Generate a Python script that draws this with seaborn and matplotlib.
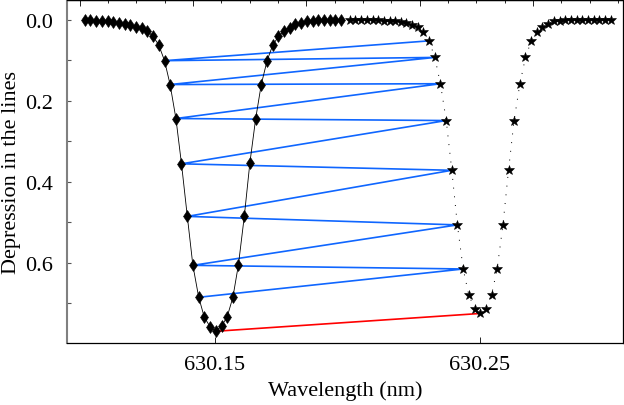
import matplotlib
matplotlib.use("Agg")
import matplotlib.pyplot as plt
from matplotlib.ticker import MultipleLocator, NullFormatter
import pandas as pd
import seaborn as sns

# ==========================
# Data
# ==========================
# Fe I 630.15 nm line (diamonds)
wl_line1 = [630.1009, 630.1030, 630.1052, 630.1073, 630.1095, 630.1116, 630.1138,
            630.1159, 630.1181, 630.1202, 630.1224, 630.1245, 630.1267, 630.1288,
            630.1310, 630.1331, 630.1353, 630.1374, 630.1396, 630.1417, 630.1439,
            630.1460, 630.1482, 630.1503, 630.1525, 630.1546, 630.1568, 630.1589,
            630.1611, 630.1632, 630.1654, 630.1675, 630.1697, 630.1718, 630.1740,
            630.1761, 630.1783, 630.1804, 630.1826, 630.1847, 630.1869, 630.1890,
            630.1912, 630.1933, 630.1955, 630.1976]
depth_line1 = [0.001, 0.001, 0.002, 0.003, 0.004, 0.006, 0.008, 0.011, 0.014, 0.018,
               0.021, 0.028, 0.041, 0.062, 0.101, 0.160, 0.244, 0.356, 0.486, 0.607,
               0.686, 0.735, 0.759, 0.770, 0.757, 0.735, 0.686, 0.605, 0.486, 0.354,
               0.244, 0.160, 0.101, 0.063, 0.041, 0.027, 0.019, 0.011, 0.007, 0.004,
               0.002, 0.001, 0.001, 0.000, 0.000, 0.000]

# Fe I 630.25 nm line (stars)
wl_line2 = [630.2009, 630.2030, 630.2052, 630.2073, 630.2095, 630.2116, 630.2137,
            630.2159, 630.2180, 630.2201, 630.2223, 630.2244, 630.2266, 630.2287,
            630.2308, 630.2330, 630.2351, 630.2373, 630.2394, 630.2415, 630.2437,
            630.2458, 630.2480, 630.2501, 630.2522, 630.2544, 630.2565, 630.2587,
            630.2608, 630.2629, 630.2651, 630.2672, 630.2694, 630.2715, 630.2736,
            630.2758, 630.2779, 630.2801, 630.2822, 630.2843, 630.2865, 630.2886,
            630.2908, 630.2929, 630.2950, 630.2972, 630.2993]
depth_line2 = [0.000, 0.000, 0.001, 0.001, 0.001, 0.001, 0.002, 0.003, 0.004, 0.006,
               0.009, 0.012, 0.017, 0.029, 0.052, 0.093, 0.158, 0.249, 0.372, 0.507,
               0.616, 0.680, 0.714, 0.726, 0.714, 0.680, 0.616, 0.507, 0.372, 0.249,
               0.158, 0.093, 0.052, 0.029, 0.017, 0.010, 0.004, 0.002, 0.001, 0.001,
               0.000, 0.000, 0.000, 0.000, 0.000, 0.000, 0.000]

# samples linked between the two lines (same index in both arrays)
linked_idx = [14, 15, 16, 17, 18, 19, 20]
core_idx = 23

# ==========================
# Build tables
# ==========================
df1 = pd.DataFrame({"wl": wl_line1, "depth": depth_line1})
df2 = pd.DataFrame({"wl": wl_line2, "depth": depth_line2})

zz_wl, zz_d = [], []
for i in linked_idx:
    zz_wl += [wl_line2[i], wl_line1[i]]
    zz_d += [depth_line2[i], depth_line1[i]]
df_zz = pd.DataFrame({"wl": zz_wl, "depth": zz_d})
df_core = pd.DataFrame({"wl": [wl_line1[core_idx], wl_line2[core_idx]],
                        "depth": [depth_line1[core_idx], depth_line2[core_idx]]})

# ==========================
# Figure
# ==========================
sns.set_style("ticks")
plt.rcParams["font.family"] = ["Liberation Serif", "DejaVu Serif"]
plt.rcParams["text.color"] = "black"
plt.rcParams["axes.labelcolor"] = "black"
plt.rcParams["xtick.labelcolor"] = "black"
plt.rcParams["ytick.labelcolor"] = "black"

fig = plt.figure(figsize=(6.24, 4.06), dpi=100)
ax = fig.add_axes([67 / 624, 62 / 406, 556 / 624, 343 / 406])

sns.lineplot(data=df_zz, x="wl", y="depth", sort=False, color="#0f66ff",
             linewidth=1.2, ax=ax, zorder=2)
sns.lineplot(data=df_core, x="wl", y="depth", sort=False, color="#ff0000",
             linewidth=1.2, ax=ax, zorder=2)
sns.lineplot(data=df1, x="wl", y="depth", sort=False, color="black", linewidth=0.6,
             marker="d", markersize=6, markeredgewidth=0.4, markeredgecolor="black",
             ax=ax, zorder=3)
sns.lineplot(data=df2, x="wl", y="depth", sort=False, color="black", linewidth=0.7,
             linestyle=(0, (1, 8)), marker="*", markersize=7.5, markeredgewidth=0.4,
             markeredgecolor="black", ax=ax, zorder=3)

ax.set_xlim(630.0942, 630.304)
ax.set_ylim(0.799, -0.049)

ax.set_xticks([630.15, 630.25])
ax.set_xticklabels(["630.15", "630.25"])
ax.yaxis.set_major_locator(MultipleLocator(0.2))
ax.yaxis.set_minor_locator(MultipleLocator(0.1))
ax.tick_params(axis="both", which="both", direction="in", labelsize=16)
ax.tick_params(axis="x", length=4, width=0.6, color="black", pad=9)
ax.tick_params(axis="y", which="both", length=3, width=0.8, color="#555555", pad=10)

# top axis (unlabelled scale)
top = ax.secondary_xaxis("top", functions=(lambda w: (w - 630.1418) / 0.01069,
                                           lambda u: u * 0.01069 + 630.1418))
top.xaxis.set_major_locator(MultipleLocator(4))
top.xaxis.set_minor_locator(MultipleLocator(1))
top.xaxis.set_major_formatter(NullFormatter())
top.tick_params(which="major", direction="in", length=4, width=0.6, color="black")
top.tick_params(which="minor", direction="in", length=2, width=0.6, color="black")
top.spines["top"].set_linewidth(0.9)
top.spines["top"].set_color("black")

for side in ["top", "right", "bottom"]:
    ax.spines[side].set_visible(True)
    ax.spines[side].set_color("black")
    ax.spines[side].set_linewidth(0.9)
ax.spines["left"].set_color("#808080")
ax.spines["left"].set_linewidth(1.5)

ax.set_xlabel("Wavelength (nm)", fontsize=16)
ax.set_ylabel("Depression in the lines", fontsize=16)
ax.xaxis.set_label_coords(0.5, -0.108)
ax.yaxis.set_label_coords(-0.083, 0.5)

plt.savefig("out.png", dpi=100)
